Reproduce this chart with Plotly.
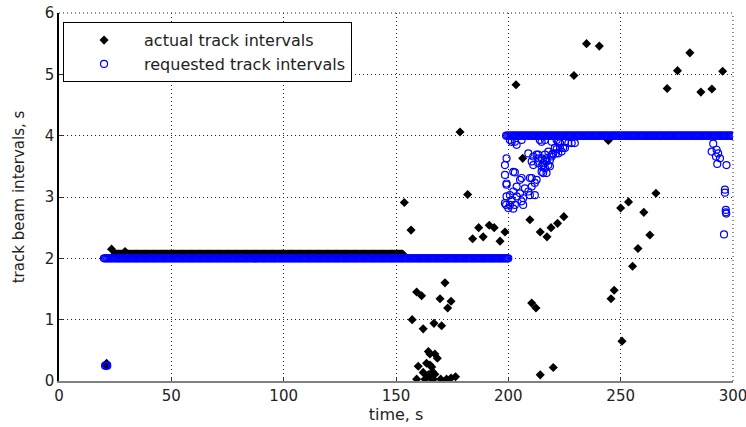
import numpy as np
import plotly.graph_objects as go

# ---------------- data ----------------
# requested track intervals (blue open circles)
req_const2_t = list(np.arange(20, 200.01, 0.5))     # steady request of 2.0 s (dense band)
req_const2_v = 2.0
req_const4_t = list(np.arange(199, 300.01, 0.5))    # steady request of 4.0 s (dense band)
req_const4_v = 4.0
req_start_t = [20.5, 21.0, 21.5]
req_start_v = [0.25, 0.25, 0.25]
req_cluster_t = [200.7, 202.9, 205.9, 214.0, 203.7, 201.5, 214.8, 219.3, 222.2, 216.3, 221.5, 225.2,
                 226.7, 228.2, 229.6, 223.0, 224.4, 221.5, 220.7, 223.0, 225.2,
                 208.9, 211.1, 213.3, 216.3, 214.8, 217.0, 211.1, 215.5, 216.3, 212.6, 219.3, 213.3,
                 210.4, 213.3, 217.0, 218.5, 214.8, 221.2, 223.7, 218.5, 217.0, 217.8, 220.0, 222.2,
                 219.3, 216.3, 215.5, 217.8, 214.8, 215.5,
                 199.2, 198.5, 202.9, 198.5, 205.9, 209.6, 212.6, 211.8, 210.4, 199.2, 203.7, 207.4,
                 208.9, 202.2, 205.2, 209.6, 211.8, 200.7, 203.7, 206.6, 199.2, 201.5, 205.9, 198.5,
                 200.7, 202.9, 206.6, 199.0, 200.0, 202.2, 199.2, 205.2, 210.4, 202.2,
                 291.2, 290.5, 292.7, 293.4, 292.4, 294.2, 293.0, 297.1, 296.4, 296.4, 296.8, 296.8,
                 296.0, 297.0]
req_cluster_v = [3.93, 3.90, 3.93, 3.93, 3.85, 3.90, 3.90, 3.90, 3.90, 3.93, 3.93, 3.90,
                 3.88, 3.88, 3.88, 3.88, 3.80, 3.78, 3.80, 3.80, 3.80,
                 3.71, 3.66, 3.69, 3.69, 3.63, 3.63, 3.52, 3.52, 3.47, 3.69, 3.69, 3.63,
                 3.58, 3.55, 3.58, 3.60, 3.41, 3.71, 3.74, 3.50, 3.39, 3.74, 3.71, 3.71,
                 3.66, 3.60, 3.55, 3.52, 3.50, 3.39,
                 3.63, 3.52, 3.40, 3.36, 3.31, 3.31, 3.28, 3.23, 3.17, 3.20, 3.17, 3.14,
                 3.09, 3.09, 3.06, 3.03, 3.03, 3.03, 3.01, 2.98, 3.01, 2.95, 2.93, 2.90,
                 2.87, 2.87, 2.87, 2.87, 2.82, 2.81, 3.22, 3.28, 3.31, 3.41,
                 3.87, 3.74, 3.77, 3.71, 3.66, 3.63, 3.54, 3.52, 3.12, 3.07, 2.79, 2.75,
                 2.39, 2.73]

# actual track intervals (black diamonds)
act_const_t = list(np.arange(25, 153.01, 0.5))      # steady actual interval near 2.07 s
act_const_v = 2.07
act_t = [21.2, 21.0, 23.4, 29.4,
         153.7, 156.7, 178.5, 181.9, 184.1, 186.8, 188.8, 191.5, 193.7, 196.3, 198.5,
         203.4, 206.4, 209.6, 214.2, 217.2, 219.0, 221.9, 224.7, 210.4, 212.3, 220.0, 214.2,
         229.2, 234.8, 240.5, 280.8, 275.3, 295.4, 270.7, 285.7, 290.6, 244.5, 265.7, 250.0,
         253.5, 260.3, 263.0, 257.7, 255.3, 247.1, 245.7, 250.6,
         159.2, 161.4, 171.8, 169.6, 174.5, 173.0, 157.2, 162.1, 166.9, 170.3, 164.4, 165.1,
         167.3, 168.4, 159.9, 163.6, 165.1, 165.9, 162.1, 166.3, 167.3, 164.4, 159.2, 162.9,
         165.9, 166.6, 169.9, 172.5, 174.5, 176.5]
act_v = [0.29, 0.25, 2.15, 2.11,
         2.91, 2.46, 4.06, 3.04, 2.32, 2.50, 2.35, 2.54, 2.50, 2.28, 2.43,
         4.83, 3.63, 2.63, 2.43, 2.35, 2.50, 2.57, 2.68, 1.27, 1.19, 0.22, 0.10,
         4.98, 5.50, 5.46, 5.35, 5.06, 5.05, 4.77, 4.71, 4.76, 3.92, 3.06, 2.82,
         2.92, 2.75, 2.38, 2.16, 1.87, 1.48, 1.34, 0.65,
         1.45, 1.39, 1.60, 1.34, 1.30, 1.19, 1.00, 0.85, 0.94, 0.90, 0.48, 0.44,
         0.44, 0.37, 0.24, 0.29, 0.26, 0.23, 0.14, 0.15, 0.11, 0.10, 0.03, 0.03,
         0.03, 0.03, 0.03, 0.03, 0.05, 0.07]

x_ticks = [0, 50, 100, 150, 200, 250, 300]
y_ticks = [0, 1, 2, 3, 4, 5, 6]

# ---------------- assemble ----------------
req_t = req_start_t + req_const2_t + req_const4_t + req_cluster_t
req_v = req_start_v + [req_const2_v] * len(req_const2_t) + [req_const4_v] * len(req_const4_t) + req_cluster_v
all_act_t = act_const_t + act_t
all_act_v = [act_const_v] * len(act_const_t) + act_v

FONT = "DejaVu Sans"
DOT = "1px,3px"
fig = go.Figure()
fig.add_trace(go.Scatter(
    x=all_act_t, y=all_act_v, mode="markers", name="actual track intervals",
    marker=dict(symbol="diamond", size=7, color="black", line=dict(width=0)),
))
fig.add_trace(go.Scatter(
    x=req_t, y=req_v, mode="markers", name="requested track intervals",
    marker=dict(symbol="circle-open", size=7, color="#0000ff", line=dict(width=1.2, color="#0000ff")),
))

grid = dict(showgrid=True, gridcolor="#222222", griddash=DOT, gridwidth=1)
fig.update_layout(
    width=746, height=427,
    margin=dict(l=59, r=13, t=13, b=46),
    paper_bgcolor="white", plot_bgcolor="white",
    font=dict(family=FONT, size=15, color="#222222"),
    showlegend=True,
    legend=dict(x=0.006, y=0.975, xanchor="left", yanchor="top",
                bgcolor="white", bordercolor="black", borderwidth=1,
                font=dict(family=FONT, size=16, color="#222222"),
                itemwidth=70, tracegroupgap=0),
    xaxis=dict(range=[0, 300], tickvals=x_ticks, ticks="inside", ticklen=4, tickcolor="#333",
               showline=True, linecolor="#808080", linewidth=2, zeroline=False,
               automargin=False, ticklabeloverflow="allow",
               title=dict(text="time, s", font=dict(family=FONT, size=16), standoff=2),
               **grid),
    yaxis=dict(range=[0, 6], tickvals=y_ticks, ticks="inside", ticklen=4, tickcolor="#333",
               showline=True, linecolor="black", linewidth=1.5, zeroline=False,
               automargin=False, ticklabeloverflow="allow",
               title=dict(text="track beam intervals, s", font=dict(family=FONT, size=15), standoff=16),
               **grid),
    shapes=[
        dict(type="line", xref="paper", yref="paper", x0=0, x1=1, y0=1, y1=1,
             line=dict(color="#222222", width=1, dash=DOT), layer="below"),
        dict(type="line", xref="paper", yref="paper", x0=1, x1=1, y0=0, y1=1,
             line=dict(color="#222222", width=1, dash=DOT), layer="below"),
    ],
)
fig.write_html("out.html")
